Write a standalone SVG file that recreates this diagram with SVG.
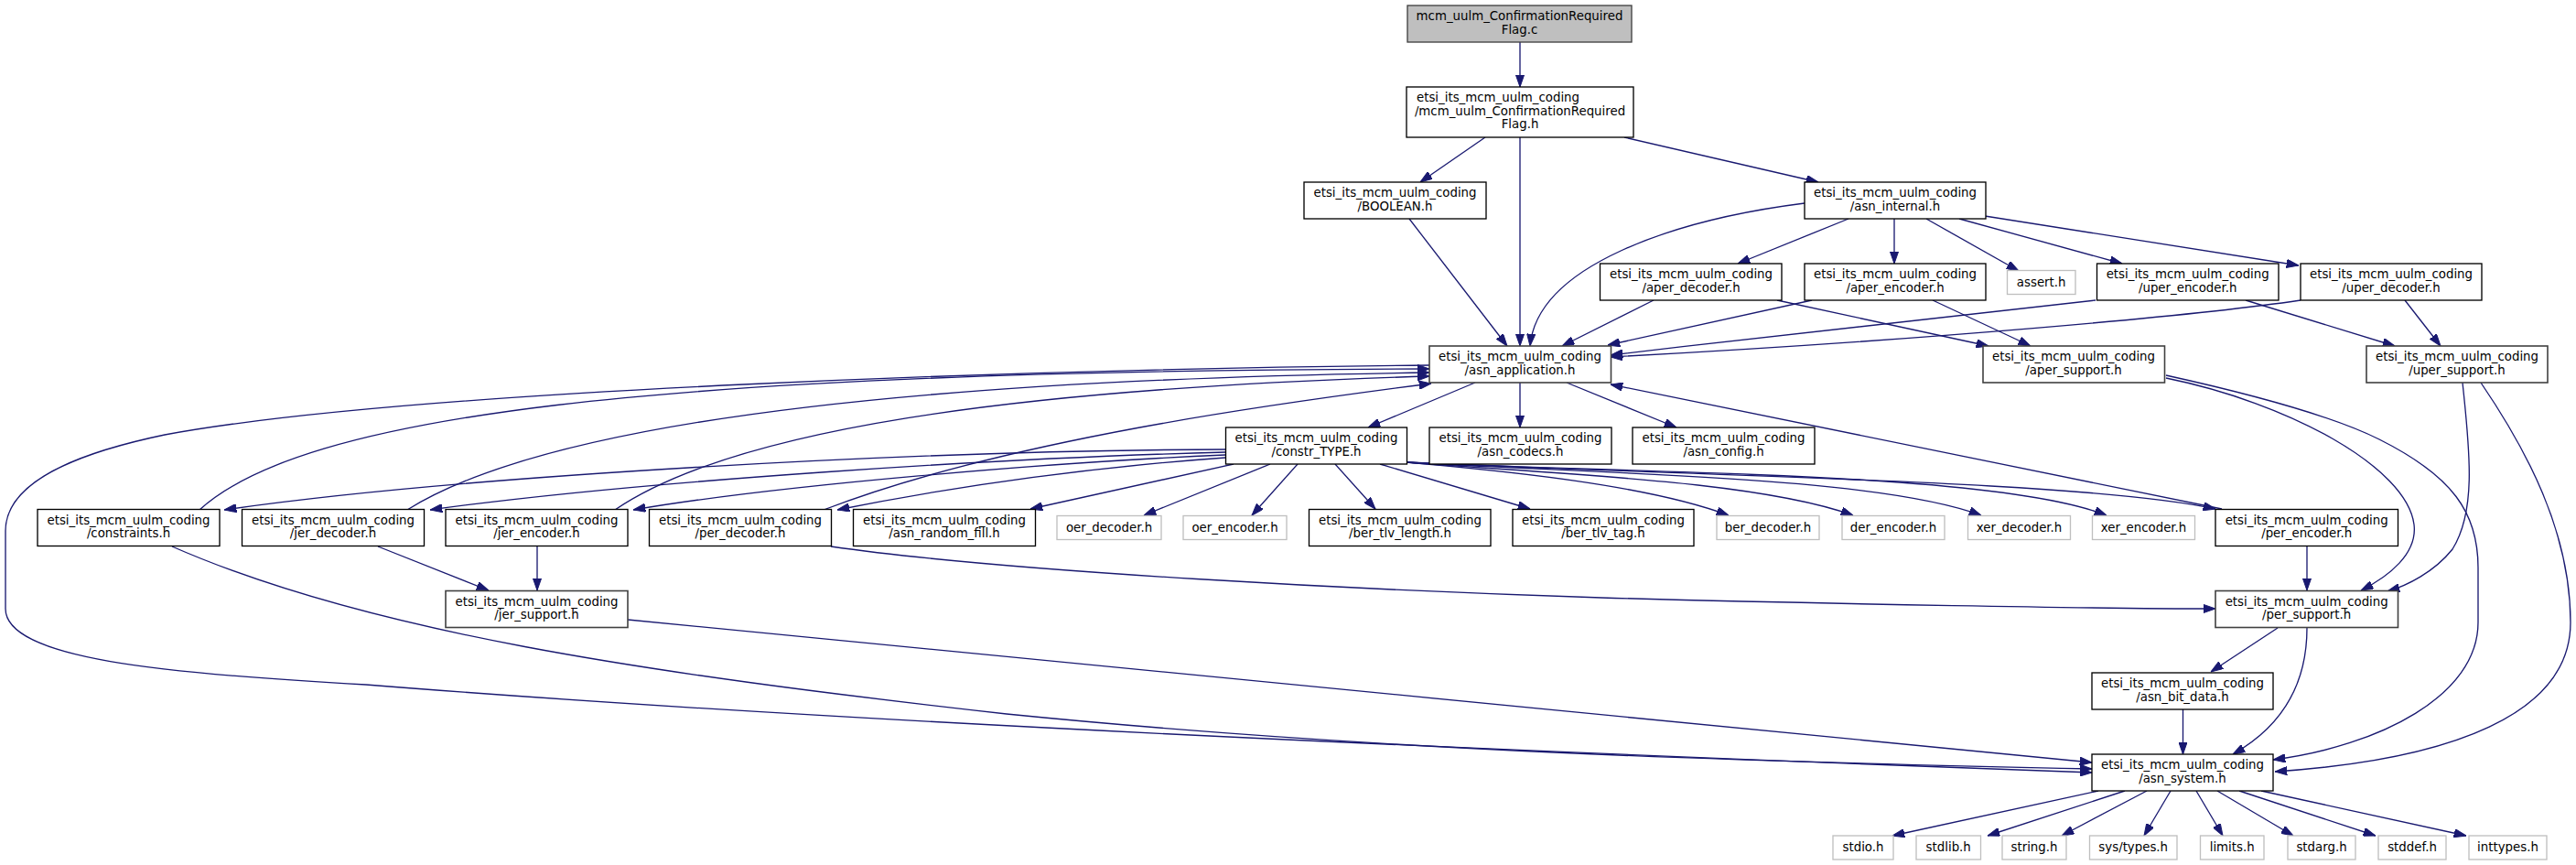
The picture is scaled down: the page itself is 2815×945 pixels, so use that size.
<svg xmlns="http://www.w3.org/2000/svg" width="2815" height="945" viewBox="0 0 2815 945">
<style>
.n rect{fill:#fff;stroke:#000;stroke-width:1.33}
.n.d rect{stroke:#404040;stroke-width:1.6}
.n.g rect{stroke:#bfbfbf}
.n.r rect{fill:#bfbfbf;stroke:#404040}
text{font-family:"DejaVu Sans",sans-serif;font-size:13.33px;text-anchor:middle;fill:#000}
.e path{fill:none;stroke:#191970;stroke-width:1.33;marker-end:url(#a)}
</style>
<defs>
<marker id="a" markerUnits="userSpaceOnUse" viewBox="0 0 13.3 9.3" refX="13.3" refY="4.65" markerWidth="13.3" markerHeight="9.3" orient="auto">
<path d="M0,0 L13.3,4.65 L0,9.3 z" fill="#191970" stroke="#191970" stroke-width="1"/>
</marker>
</defs>
<rect width="2815" height="945" fill="#fff"/>
<g class="e" id="edges">
<path d="M1661,46 L1661,95"/>
<path d="M1623,150 L1552,199"/>
<path d="M1661,150 L1661,378"/>
<path d="M1775,150 L1987,199"/>
<path d="M1540,239 L1647,378"/>
<path d="M1972,222 C1830,240 1680,290 1672,378"/>
<path d="M2020,239 L1899,288"/>
<path d="M2070,239 L2070,288"/>
<path d="M2105,239 L2206,296"/>
<path d="M2141,239 L2319,288"/>
<path d="M2169,236 L2512,290"/>
<path d="M1807,328 L1707,378"/>
<path d="M1942,328 L2173,378"/>
<path d="M1980,328 L1757,377"/>
<path d="M2112,328 L2219,378"/>
<path d="M2290,328 C2150,345 1950,365 1760,388"/>
<path d="M2454,328 L2617,378"/>
<path d="M2514,328 C2400,345 2100,372 1760,390"/>
<path d="M2628,328 L2667,378"/>
<path d="M1612,418 L1495,467"/>
<path d="M1661,418 L1661,467"/>
<path d="M1712,418 L1832,467"/>
<path d="M1562,399 C1150,403 450,425 180,475 C60,500 6,535 6,580 L6,665 C6,720 180,736 400,748 C800,780 1400,812 2286,844"/>
<path d="M188,597 C400,690 700,735 1100,780 C1500,820 1900,832 2286,840"/>
<path d="M413,597 L534,645"/>
<path d="M587,597 L587,645"/>
<path d="M686,677 L2286,833"/>
<path d="M908,597 C1100,625 1500,645 1750,653 C2000,660 2300,665 2421,665"/>
<path d="M218,557 C330,455 700,405 1562,403"/>
<path d="M445,557 C600,460 1000,415 1562,407"/>
<path d="M672,557 C800,470 1100,425 1562,411"/>
<path d="M900,557 C1100,480 1400,440 1564,419"/>
<path d="M2428,556 L1760,420"/>
<path d="M1339,491 C1000,492 500,520 245,557"/>
<path d="M1339,494 C1100,500 700,525 470,557"/>
<path d="M1339,497 C1150,505 850,530 692,557"/>
<path d="M1339,500 C1200,510 1050,530 915,557"/>
<path d="M1348,507 L1126,556"/>
<path d="M1388,507 L1250,563"/>
<path d="M1418,507 L1368,563"/>
<path d="M1459,507 L1503,556"/>
<path d="M1508,507 L1672,556"/>
<path d="M1537,505 C1650,515 1800,530 1889,563"/>
<path d="M1537,505 C1700,518 1920,525 2025,563"/>
<path d="M1537,505 C1750,518 2050,520 2165,563"/>
<path d="M1537,505 C1800,518 2180,515 2302,563"/>
<path d="M1537,505 C1850,520 2280,525 2421,556"/>
<path d="M2521,597 L2521,645"/>
<path d="M2367,413 C2500,440 2630,510 2638,573 C2642,605 2610,630 2580,645"/>
<path d="M2367,410 C2480,435 2560,460 2600,480 C2680,520 2708,560 2708,620 L2708,680 C2708,760 2600,815 2484,830"/>
<path d="M2691,418 C2700,500 2705,560 2680,600 C2660,625 2630,640 2609,646"/>
<path d="M2711,418 C2760,490 2809,580 2809,680 C2809,780 2680,830 2486,843"/>
<path d="M2489,686 L2416,734"/>
<path d="M2521,686 C2521,740 2500,790 2440,824"/>
<path d="M2385.5,775 L2385.5,824"/>
<path d="M2293,864 L2068,913"/>
<path d="M2322,864 L2172,913"/>
<path d="M2346,864 L2253,913"/>
<path d="M2372,864 L2343,913"/>
<path d="M2400,864 L2429,913"/>
<path d="M2423,864 L2506,913"/>
<path d="M2447,864 L2596,913"/>
<path d="M2471,864 L2695,913"/>
</g>
<g class="n r" id="n_root"><rect x="1538" y="6" width="245" height="40"/><text x="1660.5" y="22">mcm_uulm_ConfirmationRequired</text><text x="1660.5" y="36.7">Flag.c</text></g>
<g class="n" id="n_flag_h"><rect x="1537" y="95" width="248" height="55"/><text x="1548" y="111" style="text-anchor:start">etsi_its_mcm_uulm_coding</text><text x="1661" y="125.7">/mcm_uulm_ConfirmationRequired</text><text x="1661" y="140.3">Flag.h</text></g>
<g class="n" id="n_boolean"><rect x="1425" y="199" width="199" height="40"/><text x="1524.5" y="215">etsi_its_mcm_uulm_coding</text><text x="1524.5" y="229.7">/BOOLEAN.h</text></g>
<g class="n" id="n_asn_internal"><rect x="1972" y="199" width="198" height="40"/><text x="2071" y="215">etsi_its_mcm_uulm_coding</text><text x="2071" y="229.7">/asn_internal.h</text></g>
<g class="n" id="n_aper_decoder"><rect x="1748.5" y="288" width="198.5" height="40"/><text x="1848" y="304">etsi_its_mcm_uulm_coding</text><text x="1848" y="318.7">/aper_decoder.h</text></g>
<g class="n" id="n_aper_encoder"><rect x="1972" y="288" width="198" height="40"/><text x="2071" y="304">etsi_its_mcm_uulm_coding</text><text x="2071" y="318.7">/aper_encoder.h</text></g>
<g class="n g" id="n_assert"><rect x="2193.5" y="295.5" width="74.5" height="26"/><text x="2230.7" y="312.5">assert.h</text></g>
<g class="n" id="n_uper_encoder"><rect x="2291.5" y="288" width="198.5" height="40"/><text x="2390.7" y="304">etsi_its_mcm_uulm_coding</text><text x="2390.7" y="318.7">/uper_encoder.h</text></g>
<g class="n" id="n_uper_decoder"><rect x="2514" y="288" width="198" height="40"/><text x="2613" y="304">etsi_its_mcm_uulm_coding</text><text x="2613" y="318.7">/uper_decoder.h</text></g>
<g class="n d" id="n_asn_application"><rect x="1562" y="378" width="198.5" height="40"/><text x="1661" y="394">etsi_its_mcm_uulm_coding</text><text x="1661" y="408.7">/asn_application.h</text></g>
<g class="n d" id="n_aper_support"><rect x="2167" y="378" width="198.5" height="40"/><text x="2266" y="394">etsi_its_mcm_uulm_coding</text><text x="2266" y="408.7">/aper_support.h</text></g>
<g class="n d" id="n_uper_support"><rect x="2586" y="378" width="198" height="40"/><text x="2685" y="394">etsi_its_mcm_uulm_coding</text><text x="2685" y="408.7">/uper_support.h</text></g>
<g class="n" id="n_constr_type"><rect x="1339.5" y="467" width="198" height="40"/><text x="1438.5" y="483">etsi_its_mcm_uulm_coding</text><text x="1438.5" y="497.7">/constr_TYPE.h</text></g>
<g class="n" id="n_asn_codecs"><rect x="1562" y="467" width="199" height="40"/><text x="1661.5" y="483">etsi_its_mcm_uulm_coding</text><text x="1661.5" y="497.7">/asn_codecs.h</text></g>
<g class="n" id="n_asn_config"><rect x="1784" y="467" width="199" height="40"/><text x="1883.5" y="483">etsi_its_mcm_uulm_coding</text><text x="1883.5" y="497.7">/asn_config.h</text></g>
<g class="n" id="n_constraints"><rect x="41" y="556.5" width="199" height="40"/><text x="140.5" y="572.5">etsi_its_mcm_uulm_coding</text><text x="140.5" y="587.2">/constraints.h</text></g>
<g class="n" id="n_jer_decoder"><rect x="264.5" y="556.5" width="199" height="40"/><text x="364" y="572.5">etsi_its_mcm_uulm_coding</text><text x="364" y="587.2">/jer_decoder.h</text></g>
<g class="n" id="n_jer_encoder"><rect x="487" y="556.5" width="199" height="40"/><text x="586.5" y="572.5">etsi_its_mcm_uulm_coding</text><text x="586.5" y="587.2">/jer_encoder.h</text></g>
<g class="n" id="n_per_decoder"><rect x="709.5" y="556.5" width="199" height="40"/><text x="809" y="572.5">etsi_its_mcm_uulm_coding</text><text x="809" y="587.2">/per_decoder.h</text></g>
<g class="n" id="n_asn_random_fill"><rect x="932.5" y="556.5" width="199" height="40"/><text x="1032" y="572.5">etsi_its_mcm_uulm_coding</text><text x="1032" y="587.2">/asn_random_fill.h</text></g>
<g class="n g" id="n_oer_decoder"><rect x="1155" y="563.5" width="114" height="26"/><text x="1212" y="580.5">oer_decoder.h</text></g>
<g class="n g" id="n_oer_encoder"><rect x="1293" y="563.5" width="113" height="26"/><text x="1349.5" y="580.5">oer_encoder.h</text></g>
<g class="n" id="n_ber_tlv_length"><rect x="1430.5" y="556.5" width="198.5" height="40"/><text x="1530" y="572.5">etsi_its_mcm_uulm_coding</text><text x="1530" y="587.2">/ber_tlv_length.h</text></g>
<g class="n" id="n_ber_tlv_tag"><rect x="1653" y="556.5" width="198" height="40"/><text x="1752" y="572.5">etsi_its_mcm_uulm_coding</text><text x="1752" y="587.2">/ber_tlv_tag.h</text></g>
<g class="n g" id="n_ber_decoder"><rect x="1876" y="563.5" width="112" height="26"/><text x="1932" y="580.5">ber_decoder.h</text></g>
<g class="n g" id="n_der_encoder"><rect x="2013" y="563.5" width="112" height="26"/><text x="2069" y="580.5">der_encoder.h</text></g>
<g class="n g" id="n_xer_decoder"><rect x="2150.5" y="563.5" width="112" height="26"/><text x="2206.5" y="580.5">xer_decoder.h</text></g>
<g class="n g" id="n_xer_encoder"><rect x="2286.5" y="563.5" width="112" height="26"/><text x="2342.5" y="580.5">xer_encoder.h</text></g>
<g class="n" id="n_per_encoder"><rect x="2421" y="556.5" width="199.5" height="40"/><text x="2520.7" y="572.5">etsi_its_mcm_uulm_coding</text><text x="2520.7" y="587.2">/per_encoder.h</text></g>
<g class="n d" id="n_jer_support"><rect x="487" y="645.5" width="199" height="40"/><text x="586.5" y="661.5">etsi_its_mcm_uulm_coding</text><text x="586.5" y="676.2">/jer_support.h</text></g>
<g class="n d" id="n_per_support"><rect x="2421" y="645.5" width="199.5" height="40"/><text x="2520.7" y="661.5">etsi_its_mcm_uulm_coding</text><text x="2520.7" y="676.2">/per_support.h</text></g>
<g class="n" id="n_asn_bit_data"><rect x="2286" y="735" width="198" height="40"/><text x="2385" y="751">etsi_its_mcm_uulm_coding</text><text x="2385" y="765.7">/asn_bit_data.h</text></g>
<g class="n" id="n_asn_system"><rect x="2286" y="824" width="198" height="40"/><text x="2385" y="840">etsi_its_mcm_uulm_coding</text><text x="2385" y="854.7">/asn_system.h</text></g>
<g class="n g" id="n_stdio"><rect x="2003" y="913" width="66" height="26"/><text x="2036" y="930">stdio.h</text></g>
<g class="n g" id="n_stdlib"><rect x="2094" y="913" width="70.5" height="26"/><text x="2129.2" y="930">stdlib.h</text></g>
<g class="n g" id="n_string"><rect x="2188" y="913" width="70" height="26"/><text x="2223" y="930">string.h</text></g>
<g class="n g" id="n_sys_types"><rect x="2283.5" y="913" width="95.5" height="26"/><text x="2331.2" y="930">sys/types.h</text></g>
<g class="n g" id="n_limits"><rect x="2404.5" y="913" width="69.5" height="26"/><text x="2439.2" y="930">limits.h</text></g>
<g class="n g" id="n_stdarg"><rect x="2500" y="913" width="74" height="26"/><text x="2537" y="930">stdarg.h</text></g>
<g class="n g" id="n_stddef"><rect x="2599" y="913" width="74" height="26"/><text x="2636" y="930">stddef.h</text></g>
<g class="n g" id="n_inttypes"><rect x="2698" y="913" width="85" height="26"/><text x="2740.5" y="930">inttypes.h</text></g>
</svg>
